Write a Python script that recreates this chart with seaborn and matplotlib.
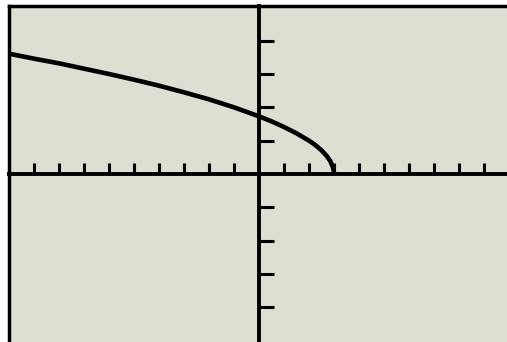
import matplotlib
matplotlib.use("Agg")
import matplotlib.pyplot as plt
import seaborn as sns
import numpy as np

# points (window -10..10, -5..5, scale 1)
x_vals = [-10, -9, -8, -7, -6, -5, -4, -3, -2, -1, 0, 0.5, 1, 1.5, 2,
          2.25, 2.5, 2.7, 2.85, 2.95, 2.99, 3]
y_vals = [3.61, 3.46, 3.32, 3.16, 3.0, 2.83, 2.65, 2.45, 2.24, 2.0, 1.73,
          1.58, 1.41, 1.22, 1.0, 0.87, 0.71, 0.55, 0.39, 0.22, 0.1, 0]
x_ticks = [-9, -8, -7, -6, -5, -4, -3, -2, -1, 1, 2, 3, 4, 5, 6, 7, 8, 9]
y_ticks = [-4, -3, -2, -1, 1, 2, 3, 4]

sns.set_style("white")
screen = "#dbe0d3"

fig = plt.figure(figsize=(5.07, 3.42), dpi=100)
fig.patch.set_facecolor("white")
rect = [9 / 507, 0, 498 / 507, 336 / 342]

# screen frame (left and top edge)
bg = fig.add_axes(rect)
bg.set_facecolor(screen)
bg.set_xticks([])
bg.set_yticks([])
for side in ["right", "bottom"]:
    bg.spines[side].set_visible(False)
for side in ["left", "top"]:
    bg.spines[side].set_linewidth(2.5)
    bg.spines[side].set_color("black")

ax = fig.add_axes(rect, zorder=2)
ax.patch.set_alpha(0)
sns.lineplot(x=x_vals, y=y_vals, ax=ax, color="black", linewidth=3.3,
             sort=False, estimator=None, solid_capstyle="butt")

ax.set_xlim(-10, 9.92)
ax.set_ylim(-5.04, 5.04)
ax.spines["left"].set_position("zero")
ax.spines["bottom"].set_position("zero")
ax.spines["right"].set_visible(False)
ax.spines["top"].set_visible(False)
for side in ["left", "bottom"]:
    ax.spines[side].set_linewidth(2.8)
    ax.spines[side].set_color("black")
ax.set_xticks(x_ticks)
ax.set_yticks(y_ticks)
ax.set_xticklabels([])
ax.set_yticklabels([])
ax.tick_params(axis="x", bottom=True, direction="in", length=8, width=2.2,
               color="black")
ax.tick_params(axis="y", left=True, direction="in", length=11, width=2.2,
               color="black")
ax.set_xlabel("")
ax.set_ylabel("")

fig.savefig("out.png", dpi=100, facecolor="white")
